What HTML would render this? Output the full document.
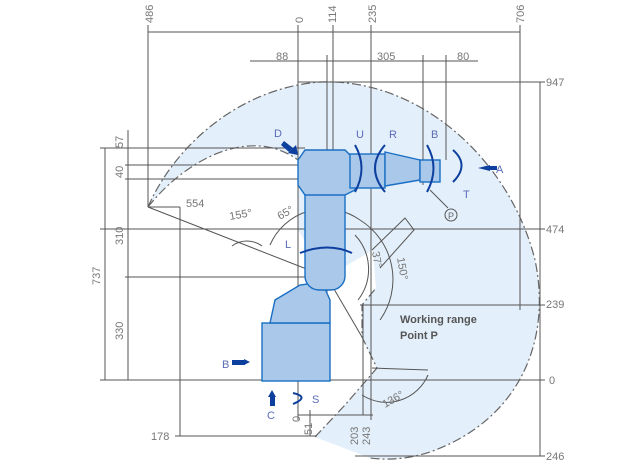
<!DOCTYPE html>
<html><head><meta charset="utf-8"><style>
html,body{margin:0;padding:0;background:#fff;}
svg{display:block;font-family:"Liberation Sans",sans-serif;}
</style></head><body>
<svg width="627" height="470" viewBox="0 0 627 470" xmlns="http://www.w3.org/2000/svg">
<path d="M148,207 C175,145 240,88 320,82 C420,78 510,160 535,260 C552,340 520,420 430,452 C405,460 385,460 370,458 L315,437 L345,405 L377,368 L362,337 L362,305 L376,288 L373,250 L327,277 Z" fill="#e3effa"/>
<path d="M148,207 C185,160 250,125 298,160 L298,230 L327,277 Z" fill="#fff"/>
<g fill="none" stroke="#666" stroke-width="1.2" stroke-dasharray="9,3,2,3">
<path d="M148,207 C175,145 240,88 320,82 C420,78 510,160 535,260 C552,340 520,420 430,452 C405,460 385,460 370,458"/>
<path d="M148,207 C185,160 250,125 298,160"/>
<path d="M315,437 L345,405 L377,368 L362,337 L362,305 L376,288"/>
</g>
<g stroke="#555" stroke-width="1" fill="none">
<line x1="148" y1="32" x2="520" y2="32"/>
<line x1="250" y1="61" x2="478" y2="61"/>
<line x1="298" y1="82" x2="545" y2="82"/>
<line x1="148" y1="25" x2="148" y2="207"/>
<line x1="298" y1="25" x2="298" y2="420"/>
<line x1="327" y1="55" x2="327" y2="300"/>
<line x1="333" y1="25" x2="333" y2="200"/>
<line x1="371" y1="25" x2="371" y2="420"/>
<line x1="423" y1="55" x2="423" y2="185"/>
<line x1="446" y1="55" x2="446" y2="160"/>
<line x1="520" y1="25" x2="520" y2="310"/>
<line x1="540" y1="82" x2="540" y2="456"/>
<line x1="100" y1="148" x2="305" y2="148"/>
<line x1="125" y1="165" x2="305" y2="165"/>
<line x1="125" y1="179" x2="305" y2="179"/>
<line x1="128" y1="130" x2="128" y2="380"/>
<line x1="105" y1="148" x2="105" y2="380"/>
<line x1="100" y1="229" x2="545" y2="229"/>
<line x1="125" y1="277" x2="330" y2="277"/>
<line x1="360" y1="305" x2="545" y2="305"/>
<line x1="100" y1="380" x2="545" y2="380"/>
<line x1="175" y1="436" x2="317" y2="436"/>
<line x1="355" y1="456" x2="545" y2="456"/>
<line x1="180" y1="207" x2="180" y2="436"/>
<line x1="148" y1="207" x2="180" y2="207"/>
<line x1="148" y1="207" x2="327" y2="277"/>
<line x1="310" y1="410" x2="310" y2="436"/>
<line x1="363" y1="305" x2="363" y2="415"/>
<line x1="298" y1="415" x2="373" y2="415"/>
<line x1="327" y1="277" x2="362" y2="337"/>
<line x1="372" y1="368" x2="428" y2="370"/>
<path d="M232,246 A25,25 0 0 1 262,246"/>
<path d="M270,245 A60,60 0 0 1 360,220"/>
<path d="M355,235 A50,50 0 0 1 358,300"/>
<path d="M360,220 A70,70 0 0 1 380,320"/>
<path d="M362,395 A45,45 0 0 0 428,375"/>
<path d="M372,250 L405,218 L414,230 L380,268"/>
<line x1="430" y1="190" x2="448" y2="208"/>
<circle cx="451" cy="215" r="6"/>
</g>
<g fill="#a9c8ea" stroke="#1a6fc4" stroke-width="1.4">
<rect x="262" y="323" width="68" height="58"/>
<path d="M270,323 L275,300 L300,285 L322,282 L330,300 L330,323 Z"/>
<rect x="305" y="165" width="40" height="125" rx="14"/>
<path d="M298,160 L305,150 L345,150 L355,160 L355,190 L345,195 L305,195 L298,185 Z"/>
<rect x="350" y="154" width="35" height="34"/>
<path d="M385,152 L420,160 L420,180 L385,186 Z"/>
<rect x="420" y="160" width="20" height="22"/>
</g>
<g fill="none" stroke="#0d3f9e" stroke-width="2">
<path d="M355,145 Q368,168 355,192"/>
<path d="M385,145 Q365,168 385,192"/>
<path d="M427,145 Q440,168 427,192"/>
<path d="M453,150 Q470,165 453,182"/>
<path d="M300,253 Q328,242 352,253"/>
<path d="M293,393 Q310,397 293,404"/>
</g>
<g fill="#0d3f9e">
<polygon points="284,141 293,148 289,152 281,145"/><polygon points="288,153 298,155 296,145"/>
<polygon points="478,168 490,165 490,171"/><rect x="489" y="166" width="8" height="4"/>
<polygon points="250,362 244,359 244,365"/><rect x="232" y="360" width="13" height="5"/>
<polygon points="272,390 268,397 276,397"/><rect x="270" y="396" width="5" height="10"/>
</g>
<g fill="#5b6bb8" font-size="11">
<text x="274" y="137">D</text><text x="356" y="138">U</text><text x="389" y="138">R</text><text x="431" y="138">B</text>
<text x="496" y="173">A</text><text x="463" y="198">T</text><text x="285" y="248">L</text>
<text x="222" y="368">B</text><text x="267" y="419">C</text><text x="312" y="403">S</text>
</g>
<text x="448" y="219" font-size="9" fill="#666">P</text>
<g fill="#777" font-size="11">
<text x="546" y="86">947</text>
<text x="546" y="233">474</text><text x="546" y="308">239</text><text x="549" y="384">0</text><text x="546" y="460">246</text>
<text x="276" y="60">88</text><text x="377" y="60">305</text><text x="457" y="60">80</text>
<text x="186" y="207">554</text><text x="151" y="440">178</text>
<text x="230" y="220" transform="rotate(-10 230 220)">155°</text>
<text x="280" y="220" transform="rotate(-30 280 220)">65°</text>
<text x="372" y="252" transform="rotate(80 372 252)">37°</text>
<text x="397" y="258" transform="rotate(80 397 258)">150°</text>
<text x="385" y="408" transform="rotate(-30 385 408)">136°</text>
<g transform="rotate(-90)">
<text x="-23" y="153">486</text><text x="-23" y="303">0</text><text x="-23" y="336">114</text><text x="-23" y="376">235</text><text x="-23" y="524">706</text>
<text x="-148" y="123">57</text><text x="-178" y="123">40</text><text x="-245" y="123">310</text><text x="-340" y="123">330</text><text x="-285" y="100">737</text>
<text x="-422" y="300">0</text><text x="-435" y="312">51</text><text x="-445" y="358">203</text><text x="-445" y="370">243</text>
</g>
</g>
<g fill="#555" font-size="11" font-weight="bold">
<text x="400" y="323">Working range</text><text x="400" y="339">Point P</text>
</g>
</svg>
</body></html>
